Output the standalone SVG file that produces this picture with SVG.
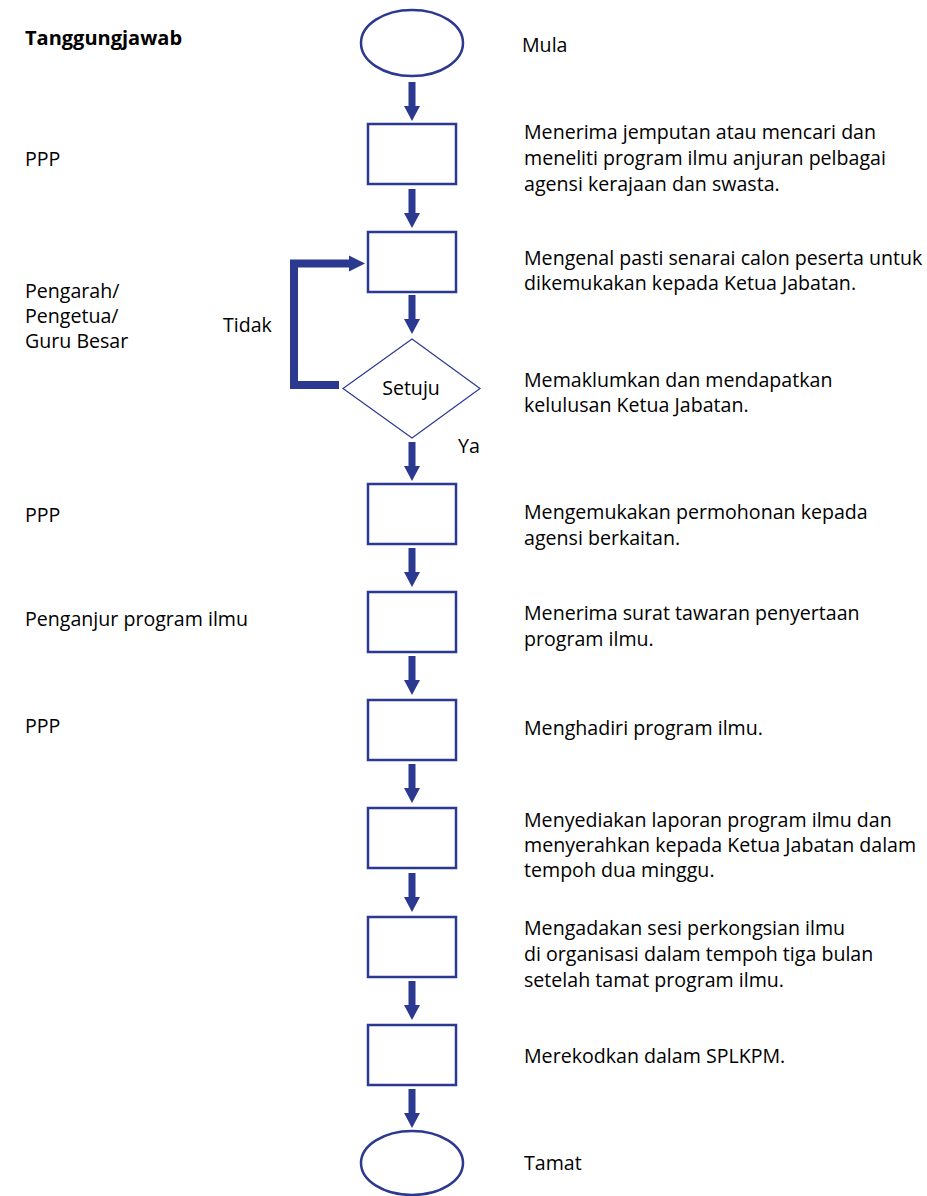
<svg xmlns="http://www.w3.org/2000/svg" xmlns:xlink="http://www.w3.org/1999/xlink" width="927" height="1196" viewBox="0 0 927 1196">
  <style>
    text { font-family: "Open Sans", "Liberation Sans", sans-serif; font-size: 19.6px; fill: #000; }
    .head { font-weight: bold; font-size: 20px; }
    .term { fill: #fff; stroke: #2b3990; stroke-width: 2.5; }
    .step { fill: #fff; stroke: #2b3990; stroke-width: 2.5; }
    .decision { fill: #fff; stroke: #2b3990; stroke-width: 1.2; }
    .flow { fill: #2b3990; }
    .loop { fill: none; stroke: #2b3990; stroke-width: 8; }
  </style>
  <defs>
    <!-- thick downward block arrow, origin at top centre of shaft -->
    <path id="arrow-down" class="flow" d="M-3.5,0 H3.5 V24 H8 L0,39 L-8,24 H-3.5 Z"/>
  </defs>
  <rect width="927" height="1196" fill="#fff"/>

  <!-- responsibility column -->
  <g id="responsibility">
    <text class="head" x="25" y="45">Tanggungjawab</text>
    <text x="25" y="166">PPP</text>
    <text x="25" y="298">Pengarah/</text>
    <text x="25" y="323">Pengetua/</text>
    <text x="25" y="348">Guru Besar</text>
    <text x="25" y="522">PPP</text>
    <text x="25" y="626">Penganjur program ilmu</text>
    <text x="25" y="733">PPP</text>
  </g>

  <!-- connectors -->
  <g id="connectors">
    <use xlink:href="#arrow-down" x="412" y="82"/>
    <use xlink:href="#arrow-down" x="412" y="189"/>
    <use xlink:href="#arrow-down" x="412" y="295"/>
    <use xlink:href="#arrow-down" x="412" y="442"/>
    <use xlink:href="#arrow-down" x="412" y="548"/>
    <use xlink:href="#arrow-down" x="412" y="656"/>
    <use xlink:href="#arrow-down" x="412" y="764"/>
    <use xlink:href="#arrow-down" x="412" y="873"/>
    <use xlink:href="#arrow-down" x="412" y="981"/>
    <use xlink:href="#arrow-down" x="412" y="1089"/>
    <!-- "Tidak" loop back to step 2 -->
    <path class="loop" d="M339,385 H294 V263.5 H350"/>
    <path class="flow" d="M349,255.5 L365,263.5 L349,271.5 Z"/>
    <text x="223" y="332">Tidak</text>
    <text x="458" y="453">Ya</text>
  </g>

  <g id="start">
    <ellipse class="term" cx="412" cy="43" rx="51" ry="33"/>
    <text x="522" y="52">Mula</text>
  </g>

  <g id="step-1">
    <rect class="step" x="368" y="124" width="88" height="60"/>
    <text x="524" y="139">Menerima jemputan atau mencari dan</text>
    <text x="524" y="165">meneliti program ilmu anjuran pelbagai</text>
    <text x="524" y="191">agensi kerajaan dan swasta.</text>
  </g>

  <g id="step-2">
    <rect class="step" x="368" y="232" width="88" height="60"/>
    <text x="524" y="265">Mengenal pasti senarai calon peserta untuk</text>
    <text x="524" y="290">dikemukakan kepada Ketua Jabatan.</text>
  </g>

  <g id="decision">
    <polygon class="decision" points="412,339 480,388.5 412,438 343,388.5"/>
    <text x="411" y="395" text-anchor="middle">Setuju</text>
    <text x="524" y="387">Memaklumkan dan mendapatkan</text>
    <text x="524" y="412">kelulusan Ketua Jabatan.</text>
  </g>

  <g id="step-3">
    <rect class="step" x="368" y="484" width="88" height="60"/>
    <text x="524" y="519">Mengemukakan permohonan kepada</text>
    <text x="524" y="545">agensi berkaitan.</text>
  </g>

  <g id="step-4">
    <rect class="step" x="368" y="592" width="88" height="60"/>
    <text x="524" y="620">Menerima surat tawaran penyertaan</text>
    <text x="524" y="646">program ilmu.</text>
  </g>

  <g id="step-5">
    <rect class="step" x="368" y="700" width="88" height="60"/>
    <text x="524" y="735">Menghadiri program ilmu.</text>
  </g>

  <g id="step-6">
    <rect class="step" x="368" y="808" width="88" height="60"/>
    <text x="524" y="827">Menyediakan laporan program ilmu dan</text>
    <text x="524" y="852">menyerahkan kepada Ketua Jabatan dalam</text>
    <text x="524" y="877">tempoh dua minggu.</text>
  </g>

  <g id="step-7">
    <rect class="step" x="368" y="917" width="88" height="60"/>
    <text x="524" y="935">Mengadakan sesi perkongsian ilmu</text>
    <text x="524" y="961">di organisasi dalam tempoh tiga bulan</text>
    <text x="524" y="987">setelah tamat program ilmu.</text>
  </g>

  <g id="step-8">
    <rect class="step" x="368" y="1025" width="88" height="60"/>
    <text x="524" y="1063">Merekodkan dalam SPLKPM.</text>
  </g>

  <g id="end">
    <ellipse class="term" cx="412" cy="1163" rx="51" ry="32"/>
    <text x="524" y="1170">Tamat</text>
  </g>
</svg>
